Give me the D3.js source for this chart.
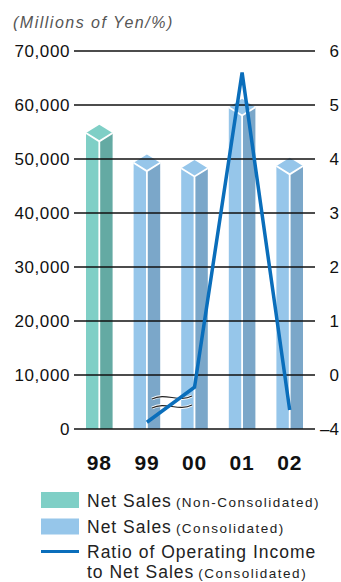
<!DOCTYPE html>
<html>
<head>
<meta charset="utf-8">
<script src="https://cdn.jsdelivr.net/npm/d3@7"></script>
<style>
  html, body { margin: 0; padding: 0; background: #fff; }
  svg { display: block; }
  text { font-family: "Liberation Sans", Arial, Helvetica, sans-serif; }
</style>
</head>
<body>
<svg id="chart" width="341" height="582"></svg>
<script>
// Fiscal years and net sales (millions of yen)
const years = ["98", "99", "00", "01", "02"];
const netSales = [54800, 49300, 48300, 59600, 48700];
const salesBasis = ["Non-Consolidated", "Consolidated", "Consolidated", "Consolidated", "Consolidated"];

// Ratio of operating income to net sales, consolidated (%)
const ratioYears = ["99", "00", "01", "02"];
const ratioValues = [-3.5, -0.9, 5.6, -2.6];

// Axis ticks: left in millions of yen, right in percent (broken below 0)
const leftTicks = [0, 10000, 20000, 30000, 40000, 50000, 60000, 70000];
const rightTicks = [-4, 0, 1, 2, 3, 4, 5, 6];

const legendLabels = [
  ["Net Sales", "(Non-Consolidated)"],
  ["Net Sales", "(Consolidated)"],
  ["Ratio of Operating Income", ""],
  ["to Net Sales", "(Consolidated)"]
];

const colors = {
  "Non-Consolidated": { front: "#7fcfc6", side: "#64aaa3" },
  "Consolidated": { front: "#96c6ea", side: "#7ba7c9" },
  line: "#0a6ebb"
};

const svg = d3.select("#chart");

const y = d3.scaleLinear().domain([0, 70000]).range([429, 51]);
const yR = d3.scaleLinear().domain([-4, 0, 6]).range([y(0), y(10000), y(70000)]);
const x = d3.scaleBand().domain(years).range([75.5, 313.5]);
const cx = d => x(d) + x.bandwidth() / 2;

// Unit caption
svg.append("text")
  .attr("x", 13).attr("y", 28)
  .attr("font-size", 16).attr("font-style", "italic")
  .attr("letter-spacing", 1.5)
  .attr("fill", "#555")
  .text("(Millions of Yen/%)");

// Prism-shaped bars
const hw = 13.3, hh = 8.3, base = y(0);
const bars = svg.append("g");
years.forEach((yr, i) => {
  const c = cx(yr), v = y(netSales[i]);
  const col = colors[salesBasis[i]];
  const g = bars.append("g");
  g.append("path").attr("fill", col.front)
    .attr("d", `M${c - hw},${v} L${c},${v + hh} L${c},${base} L${c - hw},${base} Z`);
  g.append("path").attr("fill", col.side)
    .attr("d", `M${c},${v + hh} L${c + hw},${v} L${c + hw},${base} L${c},${base} Z`);
  g.append("path").attr("fill", col.front)
    .attr("d", `M${c - hw},${v} L${c},${v - hh} L${c + hw},${v} L${c},${v + hh} Z`);
  g.append("path").attr("fill", "none").attr("stroke", "#fff").attr("stroke-width", 1.8)
    .attr("d", `M${c - hw},${v} L${c},${v + hh} L${c + hw},${v} M${c},${v + hh} L${c},${base}`);
});

// Gridlines and tick labels
const grid = svg.append("g");
leftTicks.forEach((t, i) => {
  const yy = y(t);
  grid.append("line")
    .attr("x1", 74).attr("x2", 315).attr("y1", yy).attr("y2", yy)
    .attr("stroke", "#111").attr("stroke-width", 1.3);
  grid.append("text")
    .attr("x", 70).attr("y", yy + 6)
    .attr("text-anchor", "end").attr("font-size", 17).attr("letter-spacing", 0.6)
    .attr("fill", "#111")
    .text(d3.format(",")(t));
  const r = rightTicks[i];
  grid.append("text")
    .attr("x", 339).attr("y", yR(r) + 6)
    .attr("text-anchor", "end").attr("font-size", 17)
    .attr("fill", "#111")
    .text(r < 0 ? "\u2013" + Math.abs(r) : r);
});

// Year labels
svg.append("g").selectAll("text").data(years).join("text")
  .attr("x", d => cx(d)).attr("y", 470)
  .attr("text-anchor", "middle").attr("font-size", 21).attr("font-weight", "bold")
  .attr("letter-spacing", 0.8)
  .attr("fill", "#111")
  .text(d => d);

// Scale-break mark for the compressed range below zero
const brk = svg.append("g");
[397.5, 406.5].forEach(yy => {
  const x0 = 152, x1 = 192, m = (x1 - x0) / 3;
  const d = `M ${x0} ${yy + 1.5} C ${x0 + m} ${yy - 5.5} ${x0 + 2 * m} ${yy + 5.5} ${x1} ${yy - 1.5}`;
  brk.append("path").attr("d", d).attr("fill", "none").attr("stroke", "#fff").attr("stroke-width", 3);
  brk.append("path").attr("d", d).attr("fill", "none").attr("stroke", "#222").attr("stroke-width", 1.2);
});

// Operating income ratio line
const line = d3.line().x(d => cx(d[0])).y(d => yR(d[1]));
svg.append("path")
  .datum(ratioYears.map((d, i) => [d, ratioValues[i]]))
  .attr("fill", "none").attr("stroke", colors.line).attr("stroke-width", 3.5)
  .attr("stroke-linejoin", "miter")
  .attr("d", line);

// Legend
const lg = svg.append("g");
lg.append("rect").attr("x", 41).attr("y", 492).attr("width", 38).attr("height", 16)
  .attr("fill", colors["Non-Consolidated"].front);
lg.append("rect").attr("x", 41).attr("y", 518.5).attr("width", 38).attr("height", 16)
  .attr("fill", colors["Consolidated"].front);
lg.append("line").attr("x1", 41).attr("x2", 79).attr("y1", 551.5).attr("y2", 551.5)
  .attr("stroke", colors.line).attr("stroke-width", 3);

const baselines = [506.5, 532.5, 558, 578];
legendLabels.forEach((lab, i) => {
  const t = lg.append("text").attr("x", 87).attr("y", baselines[i]).attr("fill", "#222");
  t.append("tspan").attr("font-size", 17.5).attr("letter-spacing", 1.0).text(lab[0]);
  if (lab[1]) t.append("tspan").attr("font-size", 13.5).attr("letter-spacing", 1.5).attr("dx", 4).text(lab[1]);
});
</script>
</body>
</html>
